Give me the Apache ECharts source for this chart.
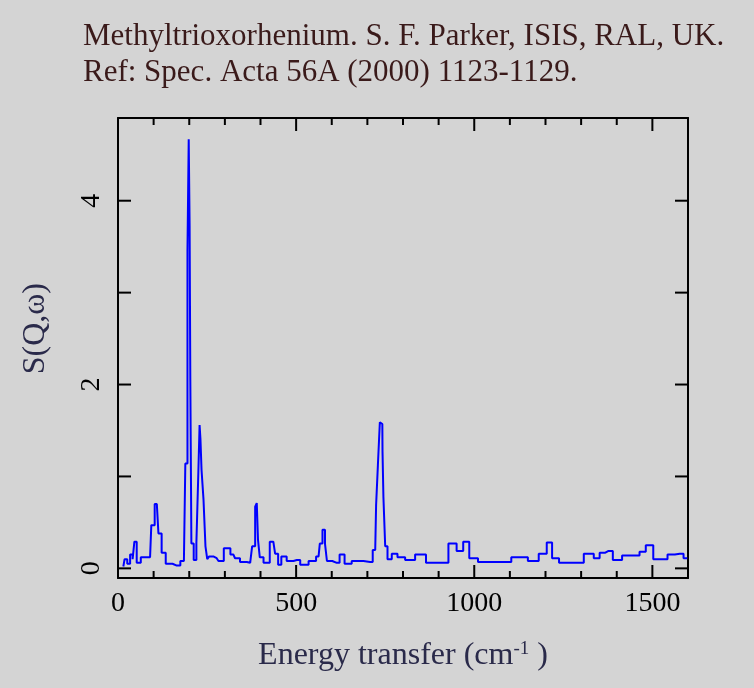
<!DOCTYPE html>
<html><head><meta charset="utf-8">
<script src="https://cdn.jsdelivr.net/npm/echarts@6/dist/echarts.min.js"></script>
<style>html,body{margin:0;background:#d4d4d4}#c{width:754px;height:688px}</style>
</head><body><div id="c"></div>
<script>
const energy = [15,22,30,38,44,48,57,71,90,97,109,118,127,141,165,185,193,197,200,202,204,208,217,223,228,230,233,236,244,247,254,258,277,287,307,324,333,352,371,382,388,391,395,401,416,436,446,453,464,483,502,521,549,563,570,578,584,589,614,630,642,670,708,722,727,732,738,742,743,747,753,760,777,792,820,848,881,914,941,960,978,994,1027,1074,1134,1167,1195,1212,1225,1251,1289,1326,1345,1359,1377,1401,1429,1457,1471,1492,1513,1536,1549,1577,1598];
const intensity = [0.02,0.1,0.05,0.15,0.1,0.29,0.06,0.12,0.12,0.47,0.70,0.38,0.17,0.05,0.03,0.08,1.14,3.46,4.67,3.73,2.05,0.27,0.09,0.27,1.04,1.56,1.40,1.07,0.75,0.24,0.10,0.13,0.11,0.08,0.22,0.15,0.11,0.07,0.06,0.24,0.67,0.71,0.31,0.12,0.06,0.29,0.16,0.04,0.13,0.08,0.09,0.04,0.08,0.13,0.27,0.42,0.27,0.08,0.06,0.15,0.05,0.08,0.07,0.20,0.69,1.12,1.59,1.57,1.27,0.78,0.24,0.10,0.16,0.12,0.09,0.15,0.06,0.06,0.27,0.19,0.29,0.11,0.07,0.07,0.12,0.08,0.16,0.28,0.11,0.06,0.06,0.16,0.11,0.17,0.19,0.09,0.14,0.14,0.18,0.25,0.10,0.10,0.15,0.16,0.11];
const titleLines = ['Methyltrioxorhenium. S. F. Parker, ISIS, RAL, UK.','Ref: Spec. Acta 56A (2000) 1123-1129.'];
const xTicks = [0,500,1000,1500];
const yTicks = [0,2,4];

const font = 'Liberation Serif';
const chart = echarts.init(document.getElementById('c'));
const axLine = {show:true,onZero:false,lineStyle:{color:'#000',width:2}};
const tick = {show:false};
chart.setOption({
  backgroundColor:'#d4d4d4',
  animation:false,
  title:{text:titleLines.join('\n'),left:78,top:14,textStyle:{fontFamily:font,fontSize:31,fontWeight:'normal',color:'#3a1a1a',lineHeight:36}},
  grid:{left:118,top:118,width:570,height:460,show:false},
  xAxis:[
    {type:'value',min:0,max:1600,interval:500,axisLine:axLine,axisTick:tick,splitLine:{show:false},
     axisLabel:{fontFamily:font,fontSize:28,color:'#000',margin:12,formatter:v=>xTicks.includes(v)?String(v):''},
     name:'{a|Energy transfer (cm}{s|-1}{a| )}',nameLocation:'middle',nameGap:62,
     nameTextStyle:{rich:{a:{fontFamily:font,fontSize:32,color:'#2a2a4a'},s:{fontFamily:font,fontSize:19,color:'#2a2a4a',verticalAlign:'top',padding:[0,0,12,0]}}}},
    {type:'value',position:'top',min:0,max:1600,interval:500,axisLine:axLine,axisTick:tick,axisLabel:{show:false},splitLine:{show:false}}
  ],
  yAxis:[
    {type:'value',min:-0.105,max:4.9,axisLine:axLine,splitLine:{show:false},axisTick:{show:false},axisLabel:{show:false}},
    {type:'value',min:-0.105,max:4.9,position:'right',axisLine:axLine,splitLine:{show:false},axisTick:{show:false},axisLabel:{show:false}}
  ],
  series:[
    {type:'line',step:'middle',xAxisIndex:0,yAxisIndex:0,data:energy.map((x,i)=>[x,intensity[i]]),symbol:'none',
     lineStyle:{color:'#0000ff',width:2}},
    {type:'custom',xAxisIndex:0,yAxisIndex:0,data:[0,1,2,3,4],silent:true,
     renderItem:(p,api)=>{
       const v=api.value(0); const y=api.coord([0,v])[1];
       const ch=[{type:'line',shape:{x1:118,y1:y,x2:131,y2:y},style:{stroke:'#000',lineWidth:2}},
                 {type:'line',shape:{x1:688,y1:y,x2:675,y2:y},style:{stroke:'#000',lineWidth:2}}];
       if(yTicks.includes(v)) ch.push({type:'text',x:92,y:y,rotation:Math.PI/2,style:{text:String(v),font:'28px '+font,fill:'#000',align:'center',verticalAlign:'middle'}});
       return {type:'group',children:ch};
     }},
    {type:'custom',xAxisIndex:0,yAxisIndex:0,data:[100,200,300,400,500,600,700,800,900,1000,1100,1200,1300,1400,1500],silent:true,
     renderItem:(p,api)=>{
       const v=api.value(0); const x=api.coord([v,0])[0];
       const L=v%500===0?13:7;
       return {type:'group',children:[
         {type:'line',shape:{x1:x,y1:578,x2:x,y2:578-L},style:{stroke:'#000',lineWidth:2}},
         {type:'line',shape:{x1:x,y1:118,x2:x,y2:118+L},style:{stroke:'#000',lineWidth:2}}]};
     }}
  ],
  graphic:[{type:'text',left:20,top:283,rotation:Math.PI/2,style:{text:'S(Q,ω)',font:'32px '+font,fill:'#2a2a4a'}}]
});
</script></body></html>
